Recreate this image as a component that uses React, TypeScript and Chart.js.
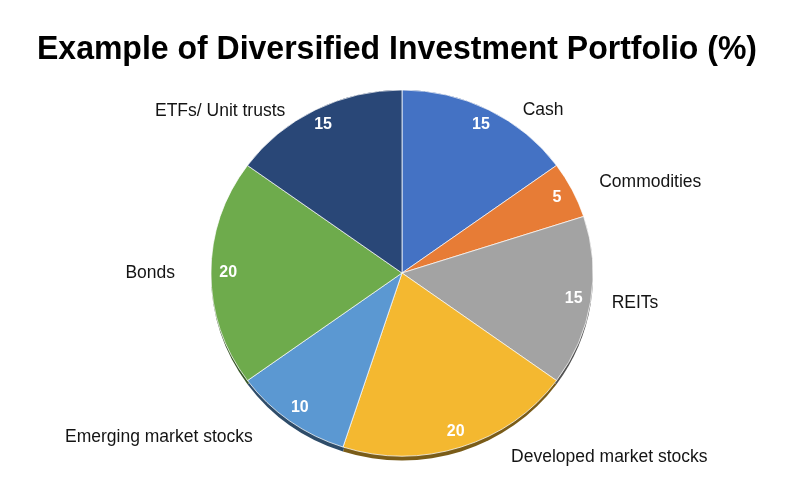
import React, { useEffect, useRef } from "react";
import { Chart, registerables } from "chart.js";

Chart.register(...registerables);

const titleText = "Example of Diversified Investment Portfolio (%)";
const categories = [
  "Cash",
  "Commodities",
  "REITs",
  "Developed market stocks",
  "Emerging market stocks",
  "Bonds",
  "ETFs/ Unit trusts",
];
const values = [15, 5, 15, 20, 10, 20, 15];
const sliceColors = ["#4472C4", "#E77C36", "#A3A3A3", "#F4B830", "#5B98D2", "#6EAB4C", "#294777"];

// style config for label placement (offsets from each slice's outer mid point)
const LABEL_NUDGE: [number, number][] = [
  [34, 0],
  [27, -8],
  [21, 2],
  [50, 10],
  [-37, 16],
  [-36, 0],
  [-30, 1],
];
const SY = 183 / 191; // slight perspective squash
const RIM = 4.5;

function darken(hex: string, f: number) {
  const n = parseInt(hex.slice(1), 16);
  const r = Math.round(((n >> 16) & 255) * f);
  const g = Math.round(((n >> 8) & 255) * f);
  const b = Math.round((n & 255) * f);
  return `rgb(${r},${g},${b})`;
}

const piePlugin = {
  id: "piePlugin",
  beforeDatasetsDraw(chart: any) {
    const meta = chart.getDatasetMeta(0);
    const a0 = meta.data[0];
    const { x, y } = a0;
    const R = a0.outerRadius;
    const ctx = chart.ctx;
    ctx.save();
    ctx.translate(x, y);
    ctx.scale(1, SY);
    ctx.translate(-x, -y);
    // thin 3D rim: same top and sides, thicker towards the bottom
    const d = RIM / 2 / SY;
    ctx.save();
    ctx.translate(x, y + d);
    ctx.scale(1, (R + d) / R);
    ctx.translate(-x, -y);
    meta.data.forEach((a: any, i: number) => {
      const p = a.getProps(["startAngle", "endAngle", "outerRadius"], true);
      ctx.beginPath();
      ctx.moveTo(x, y);
      ctx.arc(x, y, p.outerRadius, p.startAngle, p.endAngle);
      ctx.closePath();
      ctx.fillStyle = darken(sliceColors[i], 0.5);
      ctx.fill();
    });
    ctx.restore();
  },
  afterDatasetsDraw(chart: any) {
    const ctx = chart.ctx;
    ctx.restore();
    const meta = chart.getDatasetMeta(0);
    meta.data.forEach((a: any, i: number) => {
      const p = a.getProps(["x", "y", "startAngle", "endAngle", "outerRadius"], true);
      const mid = (p.startAngle + p.endAngle) / 2;
      const c = Math.cos(mid);
      const s = Math.sin(mid);
      // value label
      ctx.save();
      ctx.fillStyle = "#ffffff";
      ctx.font = "bold 16px 'Liberation Sans', Arial, sans-serif";
      ctx.textAlign = "center";
      ctx.textBaseline = "middle";
      const f = 0.91;
      ctx.fillText(String(values[i]), p.x + c * p.outerRadius * f, p.y + s * p.outerRadius * SY * f);
      // category label
      const ax = p.x + c * p.outerRadius;
      const ay = p.y + s * p.outerRadius * SY;
      const [nx, ny] = LABEL_NUDGE[i];
      ctx.fillStyle = "#141414";
      ctx.font = "17.5px 'Liberation Sans', Arial, sans-serif";
      ctx.textAlign = c >= 0 ? "left" : "right";
      ctx.fillText(categories[i], ax + nx, ay + ny);
      ctx.restore();
    });
  },
  afterDraw(chart: any) {
    const ctx = chart.ctx;
    ctx.save();
    ctx.font = "bold 34px 'Liberation Sans', Arial, sans-serif";
    ctx.fillStyle = "#000000";
    ctx.textBaseline = "alphabetic";
    ctx.textAlign = "left";
    const w = ctx.measureText(titleText).width;
    const target = 720;
    const sx = target / w;
    ctx.translate(397 - target / 2, 59);
    ctx.scale(sx, 1);
    ctx.fillText(titleText, 0, 0);
    ctx.restore();
  },
};

export default function App() {
  const ref = useRef<HTMLCanvasElement | null>(null);
  useEffect(() => {
    document.body.style.margin = "0";
    document.body.style.background = "#ffffff";
    const canvas = ref.current!;
    const chart = new Chart(canvas, {
      type: "pie",
      data: {
        labels: categories,
        datasets: [
          {
            data: values,
            backgroundColor: sliceColors,
            borderColor: "rgba(255,255,255,0.75)",
            borderWidth: 1,
          },
        ],
      },
      options: {
        responsive: false,
        animation: false,
        layout: { padding: { left: 210.5, right: 206.5, top: 81.5, bottom: 26.5 } },
        plugins: {
          legend: { display: false },
          tooltip: { enabled: false },
          title: { display: false },
        },
      },
      plugins: [piePlugin],
    });
    return () => chart.destroy();
  }, []);
  return (
    <div style={{ position: "absolute", left: 0, top: 0, width: 800, height: 491, background: "#fff" }}>
      <canvas ref={ref} width={800} height={491} style={{ width: 800, height: 491, display: "block" }} />
    </div>
  );
}
